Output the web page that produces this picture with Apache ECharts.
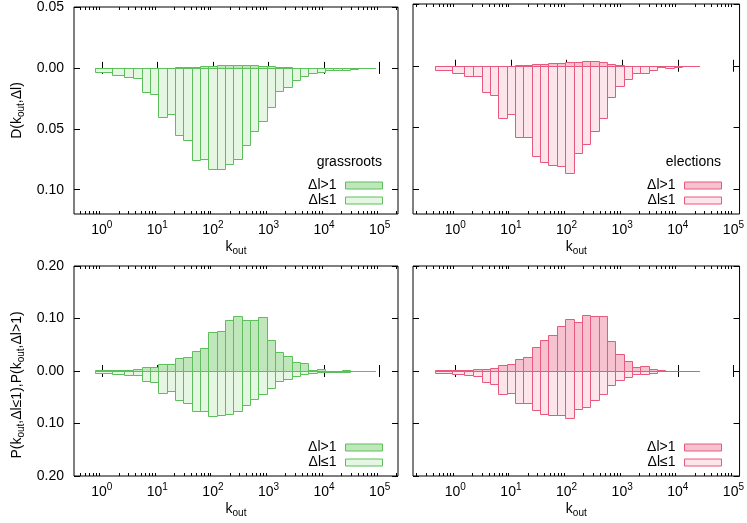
<!DOCTYPE html>
<html><head><meta charset="utf-8">
<script src="https://cdn.jsdelivr.net/npm/echarts@6/dist/echarts.min.js"></script>
<style>html,body{margin:0;padding:0;background:#fff}#c{width:747px;height:523px}</style>
</head><body><div id="c"></div><script>
// ---- data ----
const kEdgesGrass = [0.748,1.535,2.523,3.664,5.19,7.33,10.35,14.62,20.65,29.17,41.2,58.2,82.2,116.1,164.1,231.7,327.3,462.4,653.1,922.6,1303,1841,2600,3673,5188,7328,10351,14622,20654,29174,41210,58210,82224];
const kEdgesElect = [0.430,0.883,1.452,2.108,2.985,4.217,5.957,8.414,11.89,16.79,23.71,33.50,47.32,66.83,94.41,133.4,188.4,266.1,375.8,530.9,749.9,1059,1496,2113,2985,4217,5957,8414,11885,16788,23714];

const grassD_le = [-0.0032,-0.006,-0.0076,-0.0086,-0.020,-0.0216,-0.0405,-0.0375,-0.055,-0.059,-0.0756,-0.075,-0.083,-0.083,-0.079,-0.075,-0.063,-0.052,-0.044,-0.032,-0.019,-0.016,-0.010,-0.0068,-0.0038,-0.0032,-0.0016,-0.0016,-0.0019,-0.0008,-0.0005,-0.0003];
const grassD_gt = [0,0,0,0,0,0,0,0,0.0008,0.001,0.0011,0.0013,0.0016,0.002,0.002,0.002,0.002,0.002,0.0018,0.0013,0.0008,0.0005,0.0003,0,0,0,0,0,0,0,0,0];
const grassP_gt = [0.002,0.002,0.0013,0.003,0.007,0.007,0.0127,0.0127,0.024,0.026,0.038,0.043,0.074,0.077,0.0965,0.104,0.0965,0.0965,0.102,0.060,0.0356,0.028,0.0178,0.0146,0.002,0.003,0.0006,0.0006,0.002,0.0003,0.0002,0.0001];
const grassP_le = [-0.0044,-0.0063,-0.008,-0.008,-0.019,-0.021,-0.041,-0.038,-0.055,-0.060,-0.076,-0.076,-0.085,-0.084,-0.081,-0.076,-0.064,-0.053,-0.044,-0.032,-0.019,-0.016,-0.0095,-0.0057,-0.003,-0.002,-0.001,-0.001,-0.001,-0.0005,-0.0003,-0.0002];

const electD_le = [-0.0032,-0.006,-0.008,-0.0086,-0.021,-0.0235,-0.042,-0.039,-0.058,-0.058,-0.073,-0.078,-0.080,-0.081,-0.087,-0.071,-0.063,-0.053,-0.042,-0.025,-0.016,-0.011,-0.006,-0.006,-0.0038,-0.0011,-0.0019,-0.0014,-0.0005,-0.0003];
const electD_gt = [0,0,0,0,0,0,0,0,0.0008,0.0008,0.0011,0.0014,0.0019,0.0024,0.0027,0.0027,0.0035,0.0035,0.0032,0.0011,0.0008,0,0,0,0,0,0,0,0,0];
const electP_gt = [0.002,0.002,0.002,0.003,0.003,0.005,0.011,0.0127,0.022,0.026,0.045,0.060,0.068,0.085,0.100,0.093,0.106,0.104,0.104,0.058,0.033,0.020,0.007,0.009,0.0044,0.0013,0.0006,0.0003,0.0002,0.0002];
const electP_le = [-0.0044,-0.0057,-0.0076,-0.010,-0.0216,-0.025,-0.044,-0.041,-0.060,-0.060,-0.074,-0.081,-0.083,-0.084,-0.090,-0.072,-0.068,-0.056,-0.044,-0.027,-0.0165,-0.012,-0.0063,-0.0057,-0.003,-0.0006,-0.0003,-0.0003,-0.0002,-0.0002];

const xMajorTicks = [1,10,100,1000,10000,100000];
const yTicksTop = [-0.10,-0.05,0,0.05];
const yTicksBottom = [-0.20,-0.10,0,0.10,0.20];
const panelNames = ['grassroots','elections'];
const legendLabels = {g_gt:'Δl>1', g_le:'Δl≤1', e_gt:'Δl>1', e_le:'Δl≤1'};

// ---- style ----
const FONT = 'Liberation Sans';
const green = {stroke:'#5cbf5c', dark:'#bfe7bb', light:'#e5f6e3'};
const pink  = {stroke:'#e9587d', dark:'#f7c2cf', light:'#fce6eb'};

const xRanges = [[Math.pow(10,-0.5), Math.pow(10,5.33)], [Math.pow(10,-0.76), Math.pow(10,5.11)]];
const grids = [
  {left:74, top:4, width:324, height:210},
  {left:413, top:4, width:327, height:210},
  {left:74, top:266, width:324, height:210},
  {left:413, top:266, width:327, height:210}
];

function minorTicks(lo, hi){
  const out=[];
  for(let d=-2; d<=6; d++) for(let m=2;m<=9;m++){const v=m*Math.pow(10,d); if(v>lo*1.0001 && v<hi*0.9999) out.push(v);}
  return out;
}

const supRich = {
  b:{fontSize:14, fontFamily:FONT, color:'#000', lineHeight:17, verticalAlign:'bottom'},
  s:{fontSize:10, fontFamily:FONT, color:'#000', lineHeight:10, verticalAlign:'top'}
};
const subRich = {
  a:{fontSize:14, fontFamily:FONT, color:'#000', lineHeight:16, verticalAlign:'top'},
  s:{fontSize:10, fontFamily:FONT, color:'#000', lineHeight:10, verticalAlign:'bottom'}
};

const xAxes=[], yAxes=[], series=[];
grids.forEach((g,gi)=>{
  const col = gi%2, row = Math.floor(gi/2);
  const [lo,hi] = xRanges[col];
  xAxes.push({
    gridIndex:gi, type:'log', logBase:10, min:lo, max:hi, position:'bottom',
    axisLine:{show:false}, splitLine:{show:false},
    axisTick:{show:true, inside:true, length:6, customValues:xMajorTicks, lineStyle:{color:'#000', width:1}},
    axisLabel:{customValues:xMajorTicks, margin:6, formatter:v=>'{b|10}{s|'+Math.round(Math.log10(v))+'}', rich:supRich},
    name:'{a|k}{s|out}', nameLocation:'middle', nameGap:26, nameTextStyle:{rich:subRich}
  });
  xAxes.push({
    gridIndex:gi, type:'log', logBase:10, min:lo, max:hi, position:'top',
    axisLine:{show:false}, splitLine:{show:false}, axisLabel:{show:false},
    axisTick:{show:true, inside:true, length:6, customValues:xMajorTicks, lineStyle:{color:'#000', width:1}}
  });
  const yt = row===0 ? yTicksTop : yTicksBottom;
  const ymin = row===0 ? -0.12 : -0.2, ymax = row===0 ? 0.05 : 0.2;
  yAxes.push({
    gridIndex:gi, type:'value', min:ymin, max:ymax, position:'left',
    axisLine:{show:false}, splitLine:{show:false},
    axisTick:{show:true, inside:true, length:6, customValues:yt, lineStyle:{color:'#000', width:1}},
    axisLabel:{show: col===0, customValues:yt, margin:10, color:'#000', fontSize:14, fontFamily:FONT,
      formatter:v=>Math.abs(v).toFixed(2)},
    name: col===0 ? (row===0 ? '{a|D(k}{s|out}{a|,Δl)}' : '{a|P(k}{s|out}{a|,Δl≤1),P(k}{s|out}{a|,Δl>1)}') : '',
    nameLocation:'middle', nameRotate:90, nameGap:48,
    nameTextStyle:{rich:subRich, padding: row===0 ? 0 : [0,28,0,0]}
  });
  yAxes.push({
    gridIndex:gi, type:'value', min:ymin, max:ymax, position:'right',
    axisLine:{show:false}, splitLine:{show:false}, axisLabel:{show:false},
    axisTick:{show:true, inside:true, length:6, customValues:yt, lineStyle:{color:'#000', width:1}}
  });
});

function barSeries(name, gi, edges, vals, fill, stroke){
  return {
    type:'custom', name, coordinateSystem:'cartesian2d', xAxisIndex:gi*2, yAxisIndex:gi*2, clip:true,
    data: vals.map((v,i)=>[edges[i], edges[i+1], v]),
    encode:{x:[0,1], y:2},
    itemStyle:{color:fill, borderColor:stroke, borderWidth:1},
    renderItem:(params, api)=>{
      const a = api.coord([api.value(0), api.value(2)]);
      const b = api.coord([api.value(1), 0]);
      const x0 = Math.round(Math.min(a[0],b[0]))+0.5, x1 = Math.round(Math.max(a[0],b[0]))+0.5;
      const y0 = Math.round(Math.min(a[1],b[1]))+0.5, y1 = Math.round(Math.max(a[1],b[1]))+0.5;
      return {type:'rect', shape:{x:x0, y:y0, width:x1-x0, height:y1-y0}, style:{fill, stroke, lineWidth:1}};
    }
  };
}
function tickSeries(gi, lo, hi){
  return {
    type:'custom', coordinateSystem:'cartesian2d', xAxisIndex:gi*2, yAxisIndex:gi*2, silent:true, clip:false,
    data: minorTicks(lo,hi).map(v=>[v,0]),
    renderItem:(params, api)=>{
      const x = Math.round(api.coord([api.value(0),0])[0])+0.5;
      const cs = params.coordSys;
      const yb = cs.y+cs.height, yt = cs.y;
      return {type:'group', children:[
        {type:'line', shape:{x1:x,y1:yb,x2:x,y2:yb-3}, style:{stroke:'#000', lineWidth:1}},
        {type:'line', shape:{x1:x,y1:yt,x2:x,y2:yt+3}, style:{stroke:'#000', lineWidth:1}}
      ]};
    }
  };
}

series.push(barSeries('g_le',0,kEdgesGrass,grassD_le,green.light,green.stroke));
series.push(barSeries('g_gt',0,kEdgesGrass,grassD_gt,green.dark,green.stroke));
series.push(barSeries('e_le',1,kEdgesElect,electD_le,pink.light,pink.stroke));
series.push(barSeries('e_gt',1,kEdgesElect,electD_gt,pink.dark,pink.stroke));
series.push(barSeries('g_le',2,kEdgesGrass,grassP_le,green.light,green.stroke));
series.push(barSeries('g_gt',2,kEdgesGrass,grassP_gt,green.dark,green.stroke));
series.push(barSeries('e_le',3,kEdgesElect,electP_le,pink.light,pink.stroke));
series.push(barSeries('e_gt',3,kEdgesElect,electP_gt,pink.dark,pink.stroke));
grids.forEach((g,gi)=>{const [lo,hi]=xRanges[gi%2]; series.push(tickSeries(gi,lo,hi));});

function legendFor(gi, names, col){
  const c = col;
  const right = gi%2===0 ? 364 : 25;
  const top = gi<2 ? 178 : 440;
  return {
    orient:'vertical', right, top, align:'right', padding:0, itemGap:0,
    itemWidth:37, itemHeight:7, icon:'rect', selectedMode:false,
    textStyle:{fontSize:14, fontFamily:FONT, color:'#000', lineHeight:15, padding:[0,4,0,0]},
    formatter:n=>legendLabels[n],
    data:[
      {name:names[0], itemStyle:{color:c.dark, borderColor:c.stroke, borderWidth:1}},
      {name:names[1], itemStyle:{color:c.light, borderColor:c.stroke, borderWidth:1}}
    ]
  };
}

const option = {
  animation:false,
  backgroundColor:'#fff',
  textStyle:{fontFamily:FONT},
  title:[
    {text:panelNames[0], right:365, top:155, padding:0, textStyle:{fontSize:14, fontWeight:'normal', fontFamily:FONT, color:'#000'}},
    {text:panelNames[1], right:26, top:155, padding:0, textStyle:{fontSize:14, fontWeight:'normal', fontFamily:FONT, color:'#000'}}
  ],
  legend:[
    legendFor(0,['g_gt','g_le'],green),
    legendFor(1,['e_gt','e_le'],pink),
    legendFor(2,['g_gt','g_le'],green),
    legendFor(3,['e_gt','e_le'],pink)
  ],
  grid: grids.map(g=>Object.assign({show:true, borderColor:'#000', borderWidth:1, backgroundColor:'transparent', containLabel:false}, g)),
  xAxis:xAxes, yAxis:yAxes, series
};
const chart = echarts.init(document.getElementById('c'), null, {renderer:'canvas'});
chart.setOption(option);
</script></body></html>
